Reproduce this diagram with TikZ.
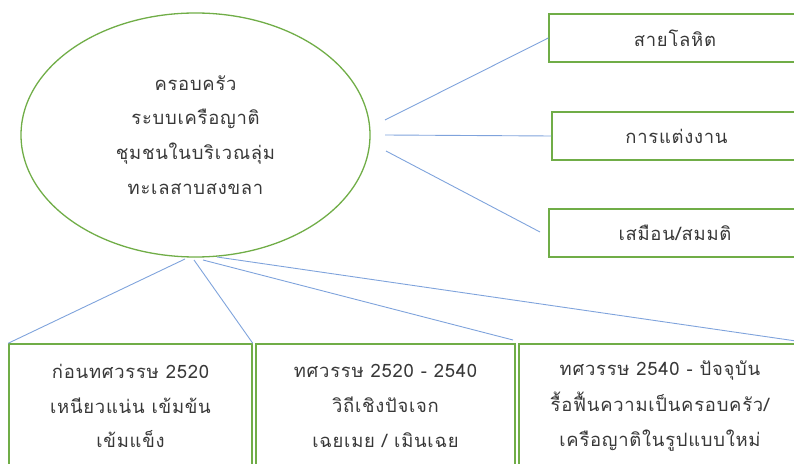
\documentclass[tikz,border=0pt]{standalone}
\usepackage{fontspec}
\newfontfamily\thaifont[Script=Thai,LetterSpace=4]{Loma}
\usetikzlibrary{shapes.geometric}
\definecolor{gr}{HTML}{70AD47}
\definecolor{bl}{HTML}{7FA3DC}
\definecolor{tx}{HTML}{383838}
\begin{document}
\begin{tikzpicture}[x=1bp,y=-1bp,
  every node/.style={font=\thaifont\fontsize{18.5}{35}\selectfont, text=tx, align=center},
  ell/.style={ellipse, draw=gr, line width=1.3bp, minimum width=349bp, minimum height=244bp, inner sep=0pt},
  bx/.style={rectangle, draw=gr, line width=1.5bp, inner sep=0pt},
  ln/.style={draw=bl, line width=0.9bp}]
\useasboundingbox (0,0) rectangle (794,464);
\clip (0,0) rectangle (794,464);
\node[ell] (e) at (195.5,135) {ครอบครัว\\ระบบเครือญาติ\\ชุมชนในบริเวณลุ่ม\\ทะเลสาบสงขลา};
% right boxes
\node[bx, minimum width=252bp, minimum height=48bp] (b1) at (675,38) {สายโลหิต};
\node[bx, minimum width=249bp, minimum height=48bp] (b2) at (676.5,136) {การแต่งงาน};
\node[bx, minimum width=252bp, minimum height=48bp] (b3) at (675,233) {เสมือน/สมมติ};
% bottom boxes
\node[bx, minimum width=243bp, minimum height=124bp] (bA) at (130.5,406) {ก่อนทศวรรษ 2520\\เหนียวแน่น เข้มข้น\\เข้มแข็ง};
\node[bx, minimum width=259bp, minimum height=124bp] (bB) at (385.5,406) {ทศวรรษ 2520 - 2540\\วิถีเชิงปัจเจก\\เฉยเมย / เมินเฉย};
\node[bx, minimum width=282bp, minimum height=124bp] (bC) at (660,406) {ทศวรรษ 2540 - ปัจจุบัน\\[1bp]รื้อฟื้นความเป็นครอบครัว/\\เครือญาติในรูปแบบใหม่};
% connector ends
\coordinate (r1) at (385,120);
\coordinate (r2) at (385,135);
\coordinate (r3) at (386,151);
\coordinate (r3e) at (540,232);
\coordinate (s1) at (185,259);
\coordinate (s2) at (194,260);
\coordinate (s3) at (203,260);
\coordinate (s4) at (217,257);
\coordinate (d3) at (513,340);
\coordinate (d4) at (796,341);
\draw[ln] (r1) -- (b1.west);
\draw[ln] (r2) -- (b2.west);
\draw[ln] (r3) -- (r3e);
\draw[ln] (s1) -- (bA.north west);
\draw[ln] (s2) -- (bA.north east);
\draw[ln] (s3) -- (d3);
\draw[ln] (s4) -- (d4);
\end{tikzpicture}
\end{document}
